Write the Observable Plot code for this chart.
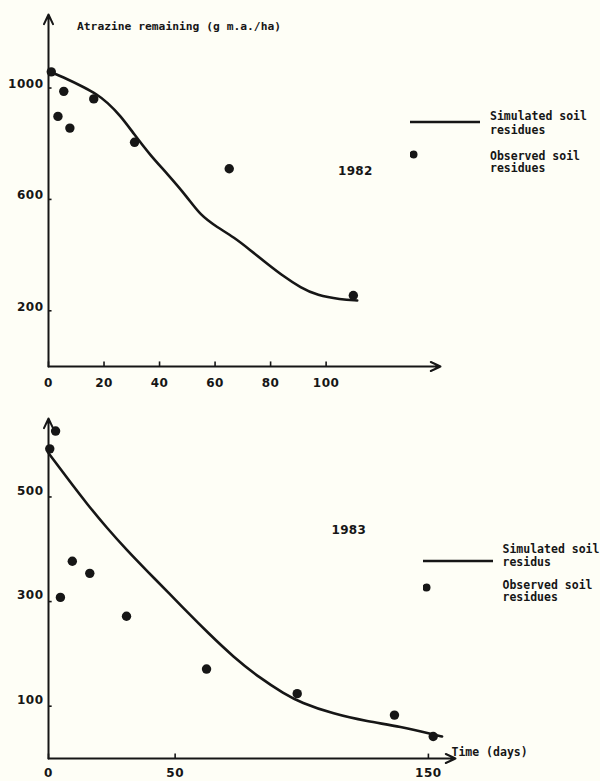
<!DOCTYPE html>
<html>
<head>
<meta charset="utf-8">
<script src="https://cdn.jsdelivr.net/npm/d3@7"></script>
<script src="https://cdn.jsdelivr.net/npm/@observablehq/plot@0.6"></script>
<style>
  html, body { margin: 0; padding: 0; background: #fefef6; }
  #wrap { position: relative; width: 600px; height: 781px; background: #fefef6; overflow: hidden; }
  #wrap svg { display: block; }
  .lab { position: absolute; font-family: "DejaVu Sans Mono", monospace; font-weight: bold; color: #161616; white-space: pre; }
  .yr { position: absolute; font-family: "DejaVu Sans", sans-serif; font-weight: bold; font-size: 12px; line-height: 12px; letter-spacing: 0.3px; color: #161616; }
</style>
</head>
<body>
<div id="wrap"></div>
<script>
// ---------- 1982 ----------
const obs1982Days = [1, 3.4, 5.5, 7.7, 16.3, 31, 65.1, 109.8];
const obs1982Vals = [1058, 898, 988, 856, 961, 805, 710, 255];
const sim1982Days = [0, 6.7, 12.7, 17.5, 21.1, 25.9, 30.7, 36.7, 42.8, 50, 54.8, 60.8, 66.8, 72.8, 78.8, 84.8, 90.8, 96.8, 105.2, 111.2];
const sim1982Vals = [1060, 1033, 1003, 977, 949, 901, 836, 758, 692, 608, 542, 500, 464, 417, 369, 323, 283, 255, 241, 237];
const xTicks1982 = [0, 20, 40, 60, 80, 100];
const yTicks1982 = [200, 600, 1000];

// ---------- 1983 ----------
const obs1983Days = [0.5, 2.8, 4.7, 9.4, 16.3, 30.8, 62.4, 98.2, 136.6, 151.9];
const obs1983Vals = [592, 626, 308, 377, 354, 272, 171, 124, 83, 42];
const sim1983Days = [0, 7.4, 15.3, 23.2, 31, 39, 48, 54.8, 62.6, 73, 83.7, 93, 99.5, 112.6, 125.8, 139, 152, 155.4];
const sim1983Vals = [584, 536, 486, 440, 398, 358, 314, 280, 242, 194, 153, 124, 107, 85, 71, 61, 46, 42];
const xTicks1983 = [0, 50, 150];
const yTicks1983 = [100, 300, 500];

// ---------- texts ----------
const yAxisTitle = "Atrazine remaining (g m.a./ha)";
const xAxisTitle = "Time (days)";
const legend1982 = ["Simulated soil\nresidues", "Observed soil\nresidues"];
const legend1983 = ["Simulated soil\nresidus", "Observed soil\nresidues"];
const years = ["1982", "1983"];

const INK = "#161616";

function panel(o) {
  const obs = o.days.map((d, i) => ({day: d, val: o.vals[i]}));
  const sim = o.simDays.map((d, i) => ({day: d, val: o.simVals[i]}));
  return Plot.plot({
    width: 600, height: o.height,
    marginTop: o.mt, marginRight: o.mr, marginBottom: o.mb, marginLeft: 48,
    style: {background: "transparent", fontFamily: "DejaVu Sans, sans-serif", fontSize: "12px", fontWeight: "bold", letterSpacing: "0.5px", color: INK, overflow: "visible"},
    x: {domain: [0, o.xMax]},
    y: {domain: [0, o.yMax]},
    marks: [
      Plot.axisX({ticks: o.xTicks, tickSize: 0, tickPadding: o.xPad, label: null, tickFormat: d => String(d)}),
      Plot.axisY({ticks: o.yTicks, tickSize: 0, tickPadding: 5, label: null, dy: o.yDy, tickFormat: d => String(d)}),
      Plot.ruleX(o.xTicks, {x: d => d, y1: 0, y2: o.yMax * 0.013, stroke: INK, strokeWidth: 1.6}),
      Plot.ruleY(o.yTicks, {y: d => d, x1: 0, x2: o.xMax * 0.009, stroke: INK, strokeWidth: 1.6}),
      Plot.arrow([0], {x1: 0, y1: 0, x2: o.xMax, y2: 0, stroke: INK, strokeWidth: 2, headLength: 8, headAngle: 50}),
      Plot.arrow([0], {x1: 0, y1: 0, x2: 0, y2: o.yMax, stroke: INK, strokeWidth: 2, headLength: 8, headAngle: 50}),
      Plot.line(sim, {x: "day", y: "val", curve: "basis", stroke: INK, strokeWidth: 2.6}),
      Plot.dot(obs, {x: "day", y: "val", r: 4.7, fill: INK, stroke: "none"})
    ]
  });
}

const wrap = document.getElementById("wrap");
wrap.appendChild(panel({
  days: obs1982Days, vals: obs1982Vals, simDays: sim1982Days, simVals: sim1982Vals,
  xTicks: xTicks1982, yTicks: yTicks1982, xMax: 141.2, yMax: 1264,
  height: 395, mt: 14, mb: 29, mr: 160, xPad: 12, yDy: -4
}));
wrap.appendChild(panel({
  days: obs1983Days, vals: obs1983Vals, simDays: sim1983Days, simVals: sim1983Vals,
  xTicks: xTicks1983, yTicks: yTicks1983, xMax: 160.7, yMax: 650,
  height: 386, mt: 23, mb: 23, mr: 145, xPad: 10, yDy: -6
}));

function addText(cls, text, left, top, size, lh) {
  const d = document.createElement("div");
  d.className = cls;
  d.textContent = text;
  d.style.left = left + "px";
  d.style.top = top + "px";
  if (size) d.style.fontSize = size + "px";
  if (lh) d.style.lineHeight = lh + "px";
  wrap.appendChild(d);
  return d;
}
function addLegend(left, lineY, dotY, t1Top, t2Top, labels) {
  const ns = "http://www.w3.org/2000/svg";
  const s = document.createElementNS(ns, "svg");
  s.setAttribute("width", 80); s.setAttribute("height", 50);
  s.style.position = "absolute"; s.style.left = left + "px"; s.style.top = lineY - 10 + "px";
  const ln = document.createElementNS(ns, "line");
  ln.setAttribute("x1", 0); ln.setAttribute("x2", 70); ln.setAttribute("y1", 10); ln.setAttribute("y2", 10);
  ln.setAttribute("stroke", INK); ln.setAttribute("stroke-width", 2.6);
  s.appendChild(ln);
  const c = document.createElementNS(ns, "circle");
  c.setAttribute("cx", 3.5); c.setAttribute("cy", dotY - lineY + 10); c.setAttribute("r", 4); c.setAttribute("fill", INK);
  s.appendChild(c);
  wrap.appendChild(s);
  addText("lab", labels[0], left + 80, t1Top, 11.5, 13.5);
  addText("lab", labels[1], left + 80, t2Top, 11.5, 12.5);
}

addText("lab", yAxisTitle, 77, 21, 11.3, 11.3);
addLegend(410, 121.5, 154, 110, 149.5, legend1982);
addText("yr", years[0], 338, 165);

addText("yr", years[1], 331.5, 523.5);
addLegend(422.5, 560.7, 587.3, 542.5, 578.5, legend1983);
addText("lab", xAxisTitle, 451.5, 746.5, 11.5, 11.5);
</script>
</body>
</html>
